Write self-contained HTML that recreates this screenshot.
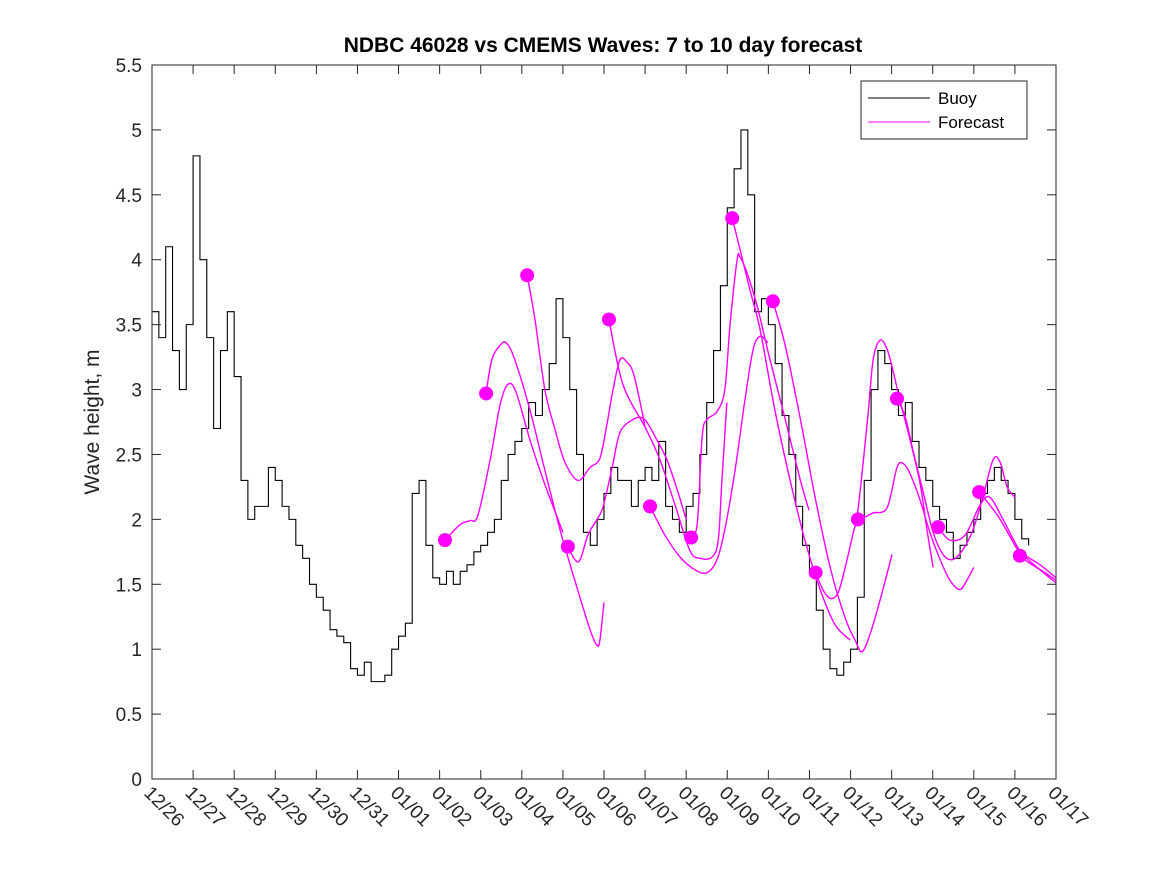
<!DOCTYPE html>
<html><head><meta charset="utf-8"><style>
body{margin:0;background:#fff;}
svg{display:block;font-family:"Liberation Sans","DejaVu Sans",sans-serif;}
</style></head><body>
<svg id="chart" width="1167" height="875">
<rect x="0" y="0" width="1167" height="875" fill="#fff"/>
<text x="603" y="52" text-anchor="middle" font-size="21" font-weight="bold" fill="#000">NDBC 46028 vs CMEMS Waves: 7 to 10 day forecast</text>
<text transform="translate(99,422) rotate(-90)" text-anchor="middle" font-size="21" fill="#262626">Wave height, m</text>
<g id="grid"></g>
<g id="buoy"></g>
<g id="fc"></g>
<rect x="152" y="65" width="904" height="714" fill="none" stroke="#262626" stroke-width="1"/>
<g>
<rect x="861" y="81" width="166" height="58" fill="#fff" stroke="#262626"/>
<line x1="868" y1="98" x2="930" y2="98" stroke="#000"/>
<text x="938" y="104" font-size="17" fill="#000">Buoy</text>
<line x1="868" y1="122" x2="930" y2="122" stroke="#f0f"/>
<text x="938" y="128" font-size="17" fill="#000">Forecast</text>
</g>
</svg>
<script>
const xLabels=["12/26","12/27","12/28","12/29","12/30","12/31","01/01","01/02","01/03","01/04","01/05","01/06","01/07","01/08","01/09","01/10","01/11","01/12","01/13","01/14","01/15","01/16","01/17"];
const yTicks=[0,0.5,1,1.5,2,2.5,3,3.5,4,4.5,5,5.5];
const yTickLabels=["0","0.5","1","1.5","2","2.5","3","3.5","4","4.5","5","5.5"];
// buoy values every 4 hours starting 12/26 00:00
const buoyStepHours=4;
const buoyValues=[
3.6,3.4,4.1,3.3,3.0,3.5,
4.8,4.0,3.4,2.7,3.3,3.6,
3.1,2.3,2.0,2.1,2.1,2.4,
2.3,2.1,2.0,1.8,1.7,1.5,
1.4,1.3,1.15,1.1,1.05,0.85,
0.8,0.9,0.75,0.75,0.8,1.0,
1.1,1.2,2.2,2.3,1.8,1.55,
1.5,1.6,1.5,1.6,1.65,1.75,
1.8,1.9,2.0,2.3,2.5,2.6,
2.7,2.9,2.8,3.0,3.2,3.7,
3.4,3.0,2.5,1.9,1.8,2.0,
2.2,2.4,2.3,2.3,2.1,2.3,
2.4,2.3,2.6,2.1,2.0,1.9,
2.1,2.2,2.5,2.9,3.3,3.8,
4.4,4.7,5.0,4.5,3.6,3.7,
3.5,3.2,2.8,2.5,2.1,1.8,
1.6,1.3,1.0,0.85,0.8,0.9,
1.0,1.4,2.3,3.0,3.3,3.2,
3.0,2.8,2.9,2.6,2.4,2.3,
2.1,2.0,1.9,1.7,1.8,1.9,
2.0,2.2,2.3,2.4,2.3,2.2,
2.0,1.85,1.8];
// forecast segments: times (days since 12/26 00:00) and wave heights
const fc1T=[7.13,7.50,7.74,7.93,8.23,8.47,8.66,8.86,9.20,9.56,10.00];
const fc1V=[1.84,1.96,1.99,2.03,2.46,2.88,3.04,2.98,2.61,2.27,1.90];
const fc2T=[8.13,8.27,8.47,8.62,8.83,9.20,9.56,9.93,10.29,10.66,10.83,10.90,11.00];
const fc2V=[2.97,3.23,3.34,3.36,3.23,2.84,2.38,1.92,1.53,1.15,1.03,1.07,1.36];
const fc3T=[9.13,9.32,9.56,9.81,10.05,10.37,10.66,10.90,11.07,11.22,11.39,11.56,11.71,11.88,12.00];
const fc3V=[3.88,3.54,3.00,2.69,2.44,2.30,2.40,2.47,2.73,3.00,3.23,3.21,3.13,2.90,2.71];
const fc4T=[10.12,10.29,10.42,10.61,10.83,10.98,11.20,11.39,11.71,11.95,12.12,12.29,12.53,12.78,13.00];
const fc4V=[1.79,1.69,1.69,1.88,2.00,2.10,2.40,2.67,2.77,2.78,2.71,2.61,2.46,2.23,2.00];
const fc5T=[11.12,11.46,12.00,12.36,12.73,13.09,13.34,13.63,13.78,13.87,13.99];
const fc5V=[3.54,3.04,2.71,2.46,2.11,1.76,1.70,1.71,1.84,2.30,2.90];
const fc6T=[12.12,12.48,12.85,13.22,13.51,13.75,13.94,14.19,14.43,14.63,14.80,14.99];
const fc6V=[2.10,1.88,1.71,1.61,1.59,1.69,1.92,2.38,2.92,3.31,3.41,3.36];
const fc7T=[13.12,13.27,13.39,13.51,13.75,13.94,14.07,14.24,14.31,14.48,14.73,15.04,15.41,15.78,15.99];
const fc7V=[1.86,1.97,2.64,2.77,2.83,3.00,3.51,4.00,4.02,3.90,3.64,3.23,2.77,2.30,2.07];
const fc8T=[14.12,14.31,14.55,14.80,15.16,15.53,15.89,16.26,16.62,16.99];
const fc8V=[4.32,4.08,3.77,3.46,2.84,2.30,1.84,1.46,1.19,1.07];
const fc9T=[15.11,15.41,15.78,16.15,16.52,16.88,17.11,17.28,17.48,17.72,18.01];
const fc9V=[3.68,3.34,2.77,2.15,1.61,1.23,1.07,0.98,1.12,1.38,1.73];
const fc10T=[16.15,16.34,16.52,16.69,16.84,17.06,17.18,17.42,17.55,17.72,17.89,18.03,18.20,18.45,18.69,18.86,19.01];
const fc10V=[1.59,1.45,1.39,1.43,1.59,1.89,2.07,2.79,3.23,3.38,3.31,3.15,2.92,2.61,2.28,1.92,1.63];
const fc11T=[17.18,17.37,17.55,17.89,18.13,18.28,18.45,18.69,18.93,19.18,19.42,19.66,19.83,20.00];
const fc11V=[2.00,2.02,2.05,2.09,2.40,2.43,2.35,2.15,1.90,1.69,1.53,1.46,1.53,1.63];
const fc12T=[18.13,18.33,18.52,18.76,19.01,19.25,19.49,19.74,19.98,20.22,20.47,20.64,20.81,21.00];
const fc12V=[2.93,2.79,2.53,2.22,1.90,1.73,1.69,1.77,1.92,2.17,2.46,2.44,2.25,2.17];
const fc13T=[19.13,19.42,19.79,20.15,20.39,20.71,21.12,21.54,22.00];
const fc13V=[1.94,1.84,1.88,2.11,2.17,2.00,1.76,1.63,1.51];
const fc14T=[20.13,20.39,20.64,20.93,21.12,21.61,22.00];
const fc14V=[2.21,2.11,2.00,1.84,1.75,1.65,1.55];
const fc15T=[21.12,21.37,21.73,22.00];
const fc15V=[1.72,1.66,1.59,1.53];
const fcTimes=[fc1T,fc2T,fc3T,fc4T,fc5T,fc6T,fc7T,fc8T,fc9T,fc10T,fc11T,fc12T,fc13T,fc14T,fc15T];
const fcValues=[fc1V,fc2V,fc3V,fc4V,fc5V,fc6V,fc7V,fc8V,fc9V,fc10V,fc11V,fc12V,fc13V,fc14V,fc15V];

const X0=152,X1=1056,Y0=779,Y1=65,XMAX=22,YMAX=5.5;
function xs(d){return X0+(X1-X0)*d/XMAX;}
function ys(v){return Y0-(Y0-Y1)*v/YMAX;}
const NS="http://www.w3.org/2000/svg";
function mk(tag,attrs,parent){const e=document.createElementNS(NS,tag);for(const k in attrs)e.setAttribute(k,attrs[k]);parent.appendChild(e);return e;}
const grid=document.getElementById('grid');
yTicks.forEach((t,i)=>{
  const y=ys(t);
  const l1=mk('line',{x1:X0,y1:y,x2:X0+9,y2:y,stroke:'#262626'},grid);
  
  
  const l2=mk('line',{x1:X1-9,y1:y,x2:X1,y2:y,stroke:'#262626'},grid);
  
  
  const tx=mk('text',{x:X0-10,y:y+7,'text-anchor':'end','font-size':'19',fill:'#262626'},grid);
  tx.textContent=yTickLabels[i];
  
  
});
xLabels.forEach((lab,i)=>{
  const x=xs(i);
  const l1=mk('line',{x1:x,y1:Y0,x2:x,y2:Y0-9,stroke:'#262626'},grid);
  
  
  const l2=mk('line',{x1:x,y1:Y1,x2:x,y2:Y1+9,stroke:'#262626'},grid);
  
  
  const tx=mk('text',{transform:`translate(${x-9},${Y0+15}) rotate(45)`,'font-size':'19',fill:'#262626'},grid);
  tx.textContent=lab;
  
  
});
// buoy as stairs
let d='';
buoyValues.forEach((v,i)=>{
  const t0=i*buoyStepHours/24;
  const x=xs(t0),y=ys(v);
  if(i===0)d+=`M${x},${y}`;else d+=`L${x},${ys(buoyValues[i-1])}L${x},${y}`;
});
const bp=mk('path',{d:d,fill:'none',stroke:'#000','stroke-width':'1.1'},document.getElementById('buoy'));


// forecasts
const fcg=document.getElementById('fc');
function smooth(pts){
  let s=`M${pts[0][0]},${pts[0][1]}`;
  for(let i=0;i<pts.length-1;i++){
    const p0=pts[Math.max(0,i-1)],p1=pts[i],p2=pts[i+1],p3=pts[Math.min(pts.length-1,i+2)];
    const c1x=p1[0]+(p2[0]-p0[0])/6,c1y=p1[1]+(p2[1]-p0[1])/6;
    const c2x=p2[0]-(p3[0]-p1[0])/6,c2y=p2[1]-(p3[1]-p1[1])/6;
    s+=`C${c1x},${c1y} ${c2x},${c2y} ${p2[0]},${p2[1]}`;
  }
  return s;
}
fcTimes.forEach((T,k)=>{
  const V=fcValues[k];
  const pts=T.map((t,i)=>[xs(t),ys(V[i])]);
  const p=mk('path',{d:smooth(pts),fill:'none',stroke:'#f0f','stroke-width':'1.4'},fcg);
  
  
});
fcTimes.forEach((T,k)=>{
  const c=mk('circle',{cx:xs(T[0]),cy:ys(fcValues[k][0]),r:7,fill:'#f0f'},fcg);
  
  
});
</script>
</body></html>
